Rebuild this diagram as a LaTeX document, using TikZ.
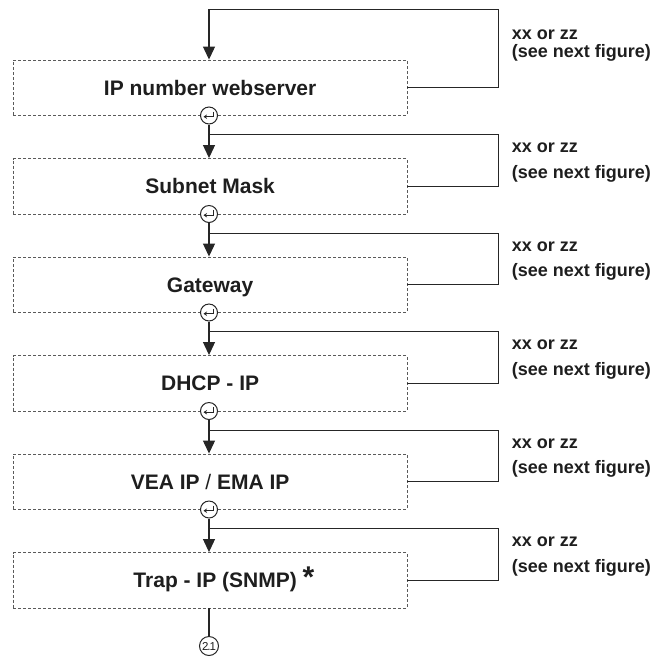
\documentclass[tikz,border=0pt]{standalone}
\usepackage{fontspec}
\setmainfont{Liberation Sans}
\usetikzlibrary{arrows.meta}
\definecolor{wirecol}{HTML}{262626}
\definecolor{dashgray}{HTML}{5A5A5A}
\definecolor{textcol}{HTML}{1E1E1E}
\begin{document}
\begin{tikzpicture}[x=1pt,y=-1pt,
  flowbox/.style={draw=dashgray, dash pattern=on 3pt off 2pt, line width=0.9pt,
    minimum width=393.7pt, minimum height=55.5pt, inner sep=0pt,
    text height=15pt, text depth=0pt, text=textcol,
    font=\fontsize{21}{24}\selectfont\bfseries},
  wire/.style={draw=wirecol, line width=1.1pt},
  arr/.style={wire, -{Triangle[length=13pt,width=12pt]}},
  entercirc/.style={circle, draw=wirecol, fill=white, line width=1pt,
    minimum size=17pt, inner sep=0pt},
  endcirc/.style={circle, draw=wirecol, fill=white, line width=1pt,
    minimum size=19pt, inner sep=0pt, text=textcol,
    font=\fontsize{11.5}{11.5}\selectfont},
  lbl/.style={anchor=base west, inner sep=0pt, text=textcol,
    font=\fontsize{18}{20}\selectfont\bfseries},
  entersym/.style={draw=wirecol, line width=0.9pt, -{Stealth[length=3.5pt,width=4.5pt]}}]
\useasboundingbox (0,0) rectangle (661,657);

% boxes
\node[flowbox] (b1) at (210.15,87.75)  {IP number webserver};
\node[flowbox] (b2) at (210.15,186.25) {Subnet Mask};
\node[flowbox] (b3) at (210.15,284.75) {Gateway};
\node[flowbox] (b4) at (210.15,383.25) {DHCP - IP};
\node[flowbox] (b5) at (210.15,481.75) {VEA IP {\mdseries /} EMA IP};
\node[flowbox] (b6) at (210.15,580.25) {\hspace{10pt}Trap - IP (SNMP)\rlap{ \raisebox{0pt}{\fontsize{30}{30}\selectfont *}}};

% top loop
\coordinate (t0) at (209,9.3);
\coordinate (r0) at (498.7,9.3);
\draw[wire] (b1.east) -| (r0) -- (t0);
\draw[arr] (t0) -- (t0 |- b1.north);

% enter circles, junctions and loops
\foreach \i/\n/\y in {1/2/134.8, 2/3/233.3, 3/4/331.8, 4/5/430.3, 5/6/528.8}{
  \node[entercirc] (e\i) at (209,\y-19.3) {};
  \draw[entersym] ([shift={(4.3,-4)}]e\i.center) -- ([shift={(4.3,1.2)}]e\i.center) -- ([shift={(-5.5,1.2)}]e\i.center);
  \coordinate (j\i) at (209,\y);
  \coordinate (r\i) at (498.7,\y);
  \draw[arr] (e\i.south) -- (e\i |- b\n.north);
  \draw[wire] (j\i) -- (r\i) |- (b\n.east);
}

% end circle
\node[endcirc] (c21) at (209,646) {2\kern-1pt.\kern-1pt1};
\draw[wire] (c21 |- b6.south) -- (c21.north);

% labels
\node[lbl] (la1) at (511.7,39) {xx or zz};
\node[lbl] (lb1) at (511.7,57.5) {(see next figure)};
\foreach \i/\y in {2/152.5, 3/251, 4/349.5, 5/448, 6/546.5}{
  \node[lbl] (la\i) at (511.7,\y) {xx or zz};
  \node[lbl] (lb\i) at (511.7,\y+25.8) {(see next figure)};
}
\end{tikzpicture}
\end{document}
